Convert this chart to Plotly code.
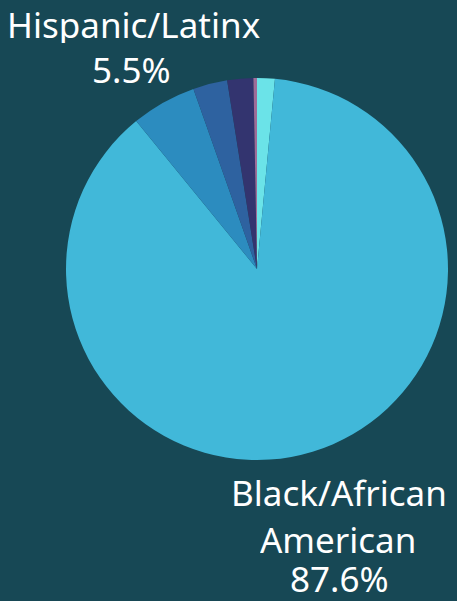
import plotly.graph_objects as go

# Data (clockwise from 12 o'clock)
categories = ["Other", "Black/African American", "Hispanic/Latinx", "Two or More Races", "White", "Asian"]
values = [1.5, 87.6, 5.5, 2.9, 2.2, 0.3]
colors = ["#6BE3E8", "#41B8D9", "#2C8CBF", "#2E62A0", "#33346F", "#9E6C98"]

BG = "#174855"
FONT = "Noto Sans"

fig = go.Figure()
fig.add_trace(go.Pie(
    labels=categories,
    values=values,
    sort=False,
    direction="clockwise",
    rotation=0,
    marker=dict(colors=colors, line=dict(width=0)),
    textinfo="none",
    hoverinfo="label+percent",
    showlegend=False,
    domain=dict(x=[(257 - 191) / 457, (257 + 191) / 457],
                y=[(332 - 191) / 601, (332 + 191) / 601]),
))

# Labels (lines placed individually)
lab_lines = [
    ("Hispanic/Latinx", 133, 24),
    (f"{values[2]}%", 131, 69),
    ("Black/African", 339, 492),
    ("American", 338, 539),
    (f"{values[1]}%", 339, 578),
]
for txt, px, py in lab_lines:
    fig.add_annotation(
        text=txt, x=px / 457, y=1 - py / 601, xref="paper", yref="paper",
        xanchor="center", yanchor="middle", showarrow=False,
        height=38, valign="middle",
        font=dict(family=FONT, size=35, color="white"),
    )

fig.update_layout(
    width=457, height=601,
    margin=dict(l=0, r=0, t=0, b=0),
    paper_bgcolor=BG, plot_bgcolor=BG,
)
fig.write_html("out.html", config={"displayModeBar": False},
               post_script="document.body.style.margin='0';document.body.style.overflow='hidden';")
